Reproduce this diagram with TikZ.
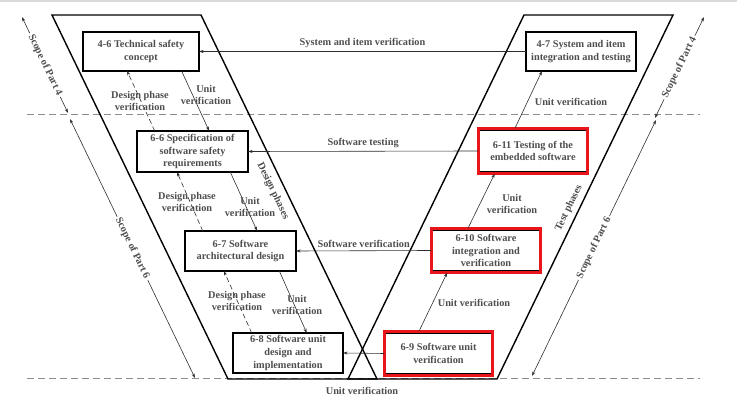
\documentclass[tikz,border=0pt]{standalone}
\usepackage{fontspec}
\setmainfont{Liberation Serif}
\usetikzlibrary{arrows.meta,calc,fit}
\definecolor{tcol}{HTML}{4E4E4E}
\definecolor{lcol}{HTML}{2E2E2E}
\definecolor{dcol}{HTML}{8C8C8C}
\definecolor{rcol}{HTML}{E8161B}
\begin{document}
\begin{tikzpicture}[x=1pt,y=-1pt,
  txt/.style={font=\bfseries\fontsize{10.3}{12.6}\selectfont, text=tcol, align=center},
  box/.style={draw=black, line width=1.1pt, fill=white, txt, inner sep=0pt, outer sep=0pt},
  redbox/.style={draw=rcol, line width=2.6pt, inner xsep=0.8pt, inner ysep=2.2pt, outer sep=0pt},
  band/.style={draw=black, line width=1.4pt, line join=miter},
  sep/.style={draw=dcol, line width=1pt, dash pattern=on 7pt off 4pt},
  tip/.tip={Stealth[length=4.5pt,width=3pt]},
  arr/.style={draw=lcol, line width=0.6pt, -tip},
  darr/.style={arr, dash pattern=on 5pt off 3pt},
  scopearr/.style={draw=lcol, line width=0.6pt, tip-tip},
  lbl/.style={txt, inner sep=1pt}
]
\useasboundingbox (0,0) rectangle (737,403);
\fill[black!15] (0,0) rectangle (737,2.5);

% dashed phase separators
\draw[sep] (27,115) -- (700,115);
\draw[sep] (27,379) -- (700,379);

% V bands
\draw[band] (52,15) -- (201,15) -- (377,379) -- (228,379) -- cycle;
\draw[band] (524,15) -- (673,15) -- (497,379) -- (348,379) -- cycle;

% band labels
\node[lbl, rotate=-64.2] (dp) at (273,191) {Design phases};
\node[lbl, rotate=64.2] (tp) at (569,208) {Test phases};

% boxes
\node[box, minimum width=116pt, minimum height=39pt] (n46) at (141,51.5) {4-6 Technical safety\\concept};
\node[box, minimum width=110pt, minimum height=39pt] (n47) at (581,51.5) {4-7 System and item\\integration and testing};
\node[box, minimum width=111pt, minimum height=41pt] (n66) at (192.5,151.5) {6-6 Specification of\\software safety\\requirements};
\node[box, minimum width=107.8pt, minimum height=41pt] (n611) at (533,151) {6-11 Testing of the\\embedded software};
\node[box, minimum width=111pt, minimum height=40pt] (n67) at (240.5,251) {6-7 Software\\architectural design};
\node[box, minimum width=107.8pt, minimum height=40pt] (n610) at (486,250.5) {6-10 Software\\integration and\\verification};
\node[box, minimum width=110pt, minimum height=40pt] (n68) at (288,353) {6-8 Software unit\\design and\\implementation};
\node[box, minimum width=106.8pt, minimum height=40pt] (n69) at (438.5,353.5) {6-9 Software unit\\verification};

% red highlights
\node[redbox, fit=(n611)] (r611) {};
\node[redbox, fit=(n610)] (r610) {};
\node[redbox, fit=(n69)] (r69) {};

% horizontal verification arrows
\draw[arr] (n47.west) -- node[lbl, above=2pt] (l1) {System and item verification} (n46.east);
\draw[arr] (r611.west) -- node[lbl, above=2pt] (l2) {Software testing} (n66.east);
\draw[arr] (r610.west) -- node[lbl, above=2pt] (l3) {Software verification} (n67.east);
\draw[arr] (r69.west) -- (n68.east);
\node[lbl] (l4) at (362,391) {Unit verification};

% left side diagonal arrows
\draw[darr] ($(n66.north west)!0.16!(n66.north east)$) -- ($(n46.south west)!0.38!(n46.south east)$);
\draw[arr] ($(n46.south west)!0.85!(n46.south east)$) -- ($(n66.north west)!0.65!(n66.north east)$);
\draw[darr] ($(n67.north west)!0.16!(n67.north east)$) -- ($(n66.south west)!0.36!(n66.south east)$);
\draw[arr] ($(n66.south west)!0.84!(n66.south east)$) -- ($(n67.north west)!0.65!(n67.north east)$);
\draw[darr] ($(n68.north west)!0.17!(n68.north east)$) -- ($(n67.south west)!0.35!(n67.south east)$);
\draw[arr] ($(n67.south west)!0.85!(n67.south east)$) -- ($(n68.north west)!0.67!(n68.north east)$);

\node[lbl] (dpv1) at (140,101) {Design phase\\verification};
\node[lbl] (uv1) at (206,95) {Unit\\verification};
\node[lbl] (dpv2) at (187,202) {Design phase\\verification};
\node[lbl] (uv2) at (250,207) {Unit\\verification};
\node[lbl] (dpv3) at (237,301) {Design phase\\verification};
\node[lbl] (uv3) at (297,305) {Unit\\verification};

% right side diagonal arrows
\draw[arr] ($(r69.north west)!0.32!(r69.north east)$) -- ($(r610.south west)!0.145!(r610.south east)$);
\draw[arr] ($(r610.north west)!0.335!(r610.north east)$) -- ($(r611.south west)!0.15!(r611.south east)$);
\draw[arr] ($(r611.north west)!0.335!(r611.north east)$) -- ($(n47.south west)!0.145!(n47.south east)$);

\node[lbl] (uv4) at (474,303) {Unit verification};
\node[lbl] (uv5) at (512,204) {Unit\\verification};
\node[lbl] (uv6) at (571,102) {Unit verification};

% scope arrows
\coordinate (a1) at (22,17);
\coordinate (a2) at (68,113);
\coordinate (b1) at (70,119);
\coordinate (b2) at (195,378);
\coordinate (c1) at (655,118);
\coordinate (c2) at (704,17);
\coordinate (d1) at (532,376);
\coordinate (d2) at (656,120);
\draw[scopearr] (a1) -- node[lbl, sloped, fill=white, inner sep=2pt] (s1) {Scope of Part 4} (a2);
\draw[scopearr] (b1) -- node[lbl, sloped, fill=white, inner sep=2pt] (s2) {Scope of Part 6} (b2);
\draw[scopearr] (c1) -- node[lbl, sloped, fill=white, inner sep=2pt] (s3) {Scope of Part 4} (c2);
\draw[scopearr] (d1) -- node[lbl, sloped, fill=white, inner sep=2pt] (s4) {Scope of Part 6} (d2);
\end{tikzpicture}
\end{document}
